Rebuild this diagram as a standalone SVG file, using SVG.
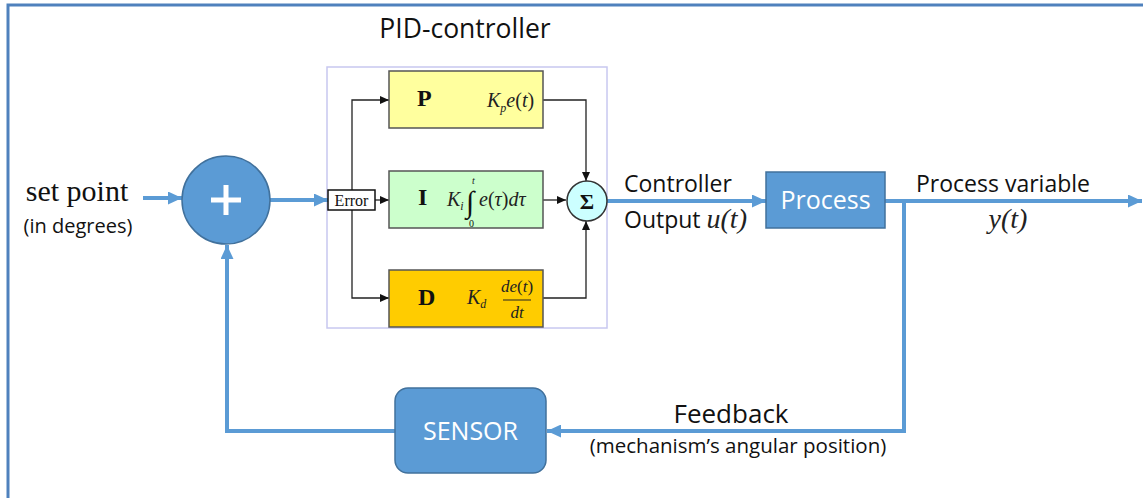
<svg xmlns="http://www.w3.org/2000/svg" width="1143" height="498" viewBox="0 0 1143 498">
  <defs>
    <marker id="blueHead" markerUnits="userSpaceOnUse" markerWidth="14" markerHeight="13" refX="14" refY="6.5" orient="auto">
      <path d="M0,0 L14,6.5 L0,13 z" fill="#5b9bd5"/>
    </marker>
    <marker id="blackHead" markerUnits="userSpaceOnUse" markerWidth="9" markerHeight="8" refX="9" refY="4" orient="auto">
      <path d="M0,0 L9,4 L0,8 z" fill="#111"/>
    </marker>
    <style>
      .frame { fill: none; stroke: #4f81bd; stroke-width: 3; }
      .blue { fill: none; stroke: #5b9bd5; stroke-width: 4; marker-end: url(#blueHead); }
      .thinArrow { fill: none; stroke: #222; stroke-width: 1.3; marker-end: url(#blackHead); }
      .shape { fill: #5b9bd5; stroke: #41719c; stroke-width: 1.5; }
      .term { stroke: #555; stroke-width: 1.5; }
      .sans { font-family: "Open Sans", "Liberation Sans", sans-serif; fill: #111; }
      .white { font-family: "Open Sans", "Liberation Sans", sans-serif; fill: #fff; }
      .serif { font-family: "Liberation Serif", "Times New Roman", serif; fill: #111; }
      .math { font-family: "Liberation Serif", "Times New Roman", serif; font-style: italic; fill: #222; }
      .letter { font-family: "Liberation Serif", "Times New Roman", serif; font-weight: bold; fill: #111; font-size: 24px; }
    </style>
  </defs>

  <rect width="1143" height="498" fill="#fff"/>
  <!-- outer frame (top and left edges) -->
  <path class="frame" d="M8,498 V5 H1143"/>

  <!-- controller enclosure -->
  <g id="pid-controller">
    <rect x="327" y="67" width="280" height="261" fill="none" stroke="#c8c8f0" stroke-width="1.5"/>
    <text class="sans" x="465" y="38" font-size="26.5" text-anchor="middle">PID-controller</text>
  </g>

  <!-- connectors -->
  <g id="connectors">
    <line class="blue" x1="143" y1="198" x2="182" y2="198"/>
    <line class="blue" x1="270" y1="200" x2="328" y2="200"/>
    <line class="thinArrow" x1="375" y1="200" x2="389" y2="200"/>
    <path class="thinArrow" d="M352,190 V100 H389"/>
    <path class="thinArrow" d="M352,210 V298 H389"/>
    <path class="thinArrow" d="M543,100 H586 V181"/>
    <line class="thinArrow" x1="543" y1="200" x2="566" y2="200"/>
    <path class="thinArrow" d="M543,298 H586 V221"/>
    <line class="blue" x1="606" y1="201" x2="766" y2="201"/>
    <line class="blue" x1="885" y1="201" x2="1142" y2="201"/>
    <path class="blue" d="M904,201 V431 H547"/>
    <path class="blue" d="M395,431 H227 V245"/>
  </g>

  <!-- summing junction -->
  <g id="summing-junction">
    <circle class="shape" cx="226" cy="200" r="44"/>
    <rect x="211" y="197.5" width="30" height="5" fill="#fff"/>
    <rect x="223.5" y="185" width="5" height="30" fill="#fff"/>
  </g>

  <g id="set-point">
    <text class="serif" x="77" y="201" font-size="30" text-anchor="middle">set point</text>
    <text class="sans" x="78" y="233" font-size="20" text-anchor="middle">(in degrees)</text>
  </g>

  <g id="error">
    <rect x="328" y="190" width="47" height="20" fill="#fff" stroke="#111" stroke-width="1.5"/>
    <text class="serif" x="351.5" y="205.5" font-size="16" text-anchor="middle">Error</text>
  </g>

  <g id="p-term">
    <rect class="term" x="389" y="71" width="154" height="57" fill="#ffff9e"/>
    <text class="letter" x="417" y="106">P</text>
    <text class="math" x="487" y="107" font-size="20">K<tspan font-size="12" dy="5">p</tspan><tspan dy="-5">e</tspan><tspan font-style="normal">(</tspan>t<tspan font-style="normal">)</tspan></text>
  </g>

  <g id="i-term">
    <rect class="term" x="389" y="171" width="154" height="57" fill="#ccffcc"/>
    <text class="letter" x="418" y="205">I</text>
    <text class="math" x="447" y="206" font-size="20">K<tspan font-size="12" dy="4">i</tspan></text>
    <text class="serif" x="466" y="212" font-size="30">∫</text>
    <text class="math" x="472" y="184" font-size="10">t</text>
    <text class="serif" x="469" y="227" font-size="10">0</text>
    <text class="math" x="479" y="206" font-size="20">e<tspan font-style="normal">(</tspan>τ<tspan font-style="normal">)</tspan>dτ</text>
  </g>

  <g id="d-term">
    <rect class="term" x="389" y="270" width="154" height="57" fill="#ffcc00"/>
    <text class="letter" x="418" y="305">D</text>
    <text class="math" x="467" y="304" font-size="20">K<tspan font-size="12" dy="4">d</tspan></text>
    <text class="math" x="517" y="292" font-size="17" text-anchor="middle">de<tspan font-style="normal">(</tspan>t<tspan font-style="normal">)</tspan></text>
    <line x1="503" y1="300" x2="531" y2="300" stroke="#222" stroke-width="1"/>
    <text class="math" x="517" y="318" font-size="17" text-anchor="middle">dt</text>
  </g>

  <g id="sigma">
    <circle cx="587" cy="201" r="20" fill="#ccffff" stroke="#333" stroke-width="1.5"/>
    <text class="serif" x="587" y="209" font-size="22" font-weight="bold" text-anchor="middle">Σ</text>
  </g>

  <g id="controller-output">
    <text class="sans" x="624" y="192" font-size="23">Controller</text>
    <text class="sans" x="624" y="228" font-size="23">Output <tspan class="math" font-size="28">u(t)</tspan></text>
  </g>

  <g id="process">
    <rect class="shape" x="766" y="172" width="119" height="56"/>
    <text class="white" x="825.5" y="209" font-size="25" text-anchor="middle">Process</text>
  </g>

  <g id="process-variable">
    <text class="sans" x="1003" y="192" font-size="23" text-anchor="middle">Process variable</text>
    <text class="math" x="1008" y="228" font-size="28" text-anchor="middle">y(t)</text>
  </g>

  <g id="sensor">
    <rect class="shape" x="395" y="388" width="151" height="85" rx="13"/>
    <text class="white" x="470.5" y="440" font-size="25" text-anchor="middle">SENSOR</text>
  </g>

  <g id="feedback">
    <text class="sans" x="731" y="423" font-size="26" text-anchor="middle">Feedback</text>
    <text class="sans" x="738" y="453" font-size="20.5" text-anchor="middle">(mechanism’s angular position)</text>
  </g>
</svg>
